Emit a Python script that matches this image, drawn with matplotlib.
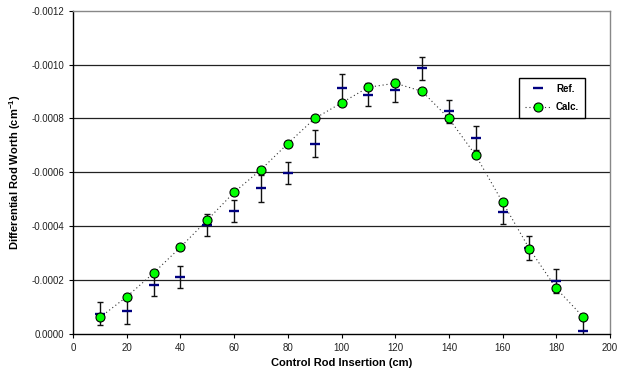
import matplotlib
matplotlib.use("Agg")
import matplotlib.pyplot as plt
from matplotlib.ticker import FixedLocator, FuncFormatter
from matplotlib.lines import Line2D

plt.rcParams['font.family'] = ['Liberation Sans', 'DejaVu Sans']
plt.rcParams['mathtext.fontset'] = 'custom'
plt.rcParams['mathtext.rm'] = 'Liberation Sans'
plt.rcParams['mathtext.bf'] = 'Liberation Sans:bold'

insertion = [10, 20, 30, 40, 50, 60, 70, 80, 90, 100,
             110, 120, 130, 140, 150, 160, 170, 180, 190]
ref_worth = [-0.000075, -0.000086, -0.000180, -0.000210, -0.000405, -0.000457,
             -0.000541, -0.000597, -0.000707, -0.000915, -0.000889, -0.000905,
             -0.000986, -0.000827, -0.000727, -0.000452, -0.000319, -0.000196,
             -0.000011]
ref_err = [0.000042, 0.000049, 0.000041, 0.000041, 0.000041, 0.000042,
           0.000050, 0.000041, 0.000050, 0.000050, 0.000043, 0.000042,
           0.000044, 0.000043, 0.000044, 0.000045, 0.000045, 0.000044,
           0.000050]
calc_worth = [-0.000061, -0.000138, -0.000226, -0.000322, -0.000423, -0.000526,
              -0.000610, -0.000707, -0.000800, -0.000858, -0.000916, -0.000931,
              -0.000901, -0.000800, -0.000663, -0.000489, -0.000316, -0.000169,
              -0.000063]
y_ticks = [0.0, -0.0002, -0.0004, -0.0006, -0.0008, -0.0010, -0.0012]
x_ticks = [0, 20, 40, 60, 80, 100, 120, 140, 160, 180, 200]

fig = plt.figure(figsize=(6.36, 3.73), dpi=100)
ax = fig.add_axes([0.115, 0.105, 0.844, 0.866])

for y in y_ticks[1:-1]:
    ax.axhline(y, color='#222222', lw=0.9, zorder=1)

ax.errorbar(insertion, ref_worth, yerr=ref_err, fmt='none', ecolor='#111111',
            elinewidth=1.0, capsize=2.5, capthick=1.0, zorder=3)
ax.plot(insertion, ref_worth, linestyle='none', marker='_', markersize=6.5,
        markeredgewidth=1.7, color='#000080', zorder=4)
ax.plot(insertion, calc_worth, linestyle=(0, (1, 2.5)), color='#333333', lw=0.8,
        marker='o', markersize=6.5, markerfacecolor='#00FF00',
        markeredgecolor='black', markeredgewidth=0.8, zorder=5)

ax.set_xlim(0, 200)
ax.set_ylim(0, -0.0012)
ax.xaxis.set_major_locator(FixedLocator(x_ticks))
ax.yaxis.set_major_locator(FixedLocator(y_ticks))
ax.yaxis.set_major_formatter(FuncFormatter(lambda v, p: "0.0000" if abs(v) < 1e-12 else f"{v:.4f}"))
ax.tick_params(axis='both', labelsize=7, direction='out', length=3, width=0.8,
               colors='black', labelcolor='#222222')

for s in ['top', 'right']:
    ax.spines[s].set_color('#888888')
    ax.spines[s].set_linewidth(1.0)
for s in ['left', 'bottom']:
    ax.spines[s].set_color('black')
    ax.spines[s].set_linewidth(1.0)

ax.set_xlabel('Control Rod Insertion (cm)', fontsize=8, fontweight='bold', labelpad=4)
ax.set_ylabel(r'Differential Rod Worth (cm$^{\mathbf{-1}}$)', fontsize=8,
              fontweight='bold', labelpad=6)

h_ref = Line2D([], [], linestyle='none', marker='_', markersize=6.5,
               markeredgewidth=1.7, color='#000080')
h_calc = Line2D([], [], linestyle=(0, (1, 2.5)), color='#333333', lw=0.8,
                marker='o', markersize=6.5, markerfacecolor='#00FF00',
                markeredgecolor='black', markeredgewidth=0.8)
leg = ax.legend([h_ref, h_calc], ['Ref.', 'Calc.'], loc='upper right',
                bbox_to_anchor=(0.963, 0.808), fancybox=False, framealpha=1,
                edgecolor='black', prop={'size': 7, 'weight': 'bold'},
                handlelength=2.6, borderpad=0.6, labelspacing=0.9,
                handletextpad=0.6)
leg.get_frame().set_linewidth(1.0)

fig.savefig('out.png', dpi=100)
